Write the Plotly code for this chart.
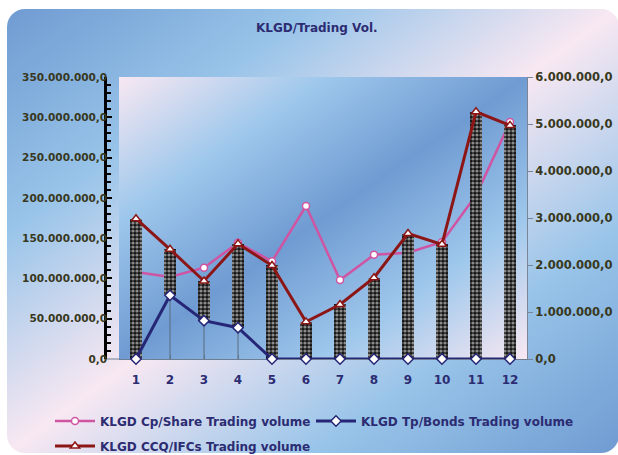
import base64
import plotly.graph_objects as go

# ---------------- data ----------------
months = [1, 2, 3, 4, 5, 6, 7, 8, 9, 10, 11, 12]
month_labels = ["1", "2", "3", "4", "5", "6", "7", "8", "9", "10", "11", "12"]
cp_share = [108.0e6, 101.8e6, 113.3e6, 144.3e6, 121.3e6, 189.9e6,
            98.0e6, 129.4e6, 131.9e6, 145.2e6, 203.2e6, 294.1e6]
tp_bonds = [0.0, 1.355e6, 0.815e6, 0.666e6, 0.0, 0.0,
            0.0, 0.0, 0.0, 0.0, 0.0, 0.0]
ccq_ifcs = [2.985e6, 2.334e6, 1.66e6, 2.45e6, 1.99e6, 0.79e6,
            1.16e6, 1.73e6, 2.67e6, 2.44e6, 5.26e6, 4.97e6]

W, H = 618, 455
PX0, PX1, PY0, PY1 = 119, 527, 77, 359   # plot area in pixels

def px(x):
    return x / W

def py(y):
    return 1 - y / H

FONT = "DejaVu Sans"
NAVY = "#2c2c72"
OLIVE = "#383820"
PINK = "#cf55a3"
BLUE = "#262676"
RED = "#8c1616"

# ---------------- background gradients (SVG) ----------------
svg = f'''<svg xmlns="http://www.w3.org/2000/svg" width="{W}" height="{H}" viewBox="0 0 {W} {H}">
<defs>
<linearGradient id="g1" x1="0" y1="0" x2="1" y2="1">
<stop offset="0" stop-color="#6f9bd2"/>
<stop offset="0.25" stop-color="#98c4e9"/>
<stop offset="0.5" stop-color="#f8e8f2"/>
<stop offset="0.75" stop-color="#98c4e9"/>
<stop offset="1" stop-color="#6f9bd2"/>
</linearGradient>
<linearGradient id="g2" x1="0" y1="0" x2="1" y2="1">
<stop offset="0" stop-color="#f8e8f2"/>
<stop offset="0.25" stop-color="#9fc8ec"/>
<stop offset="0.5" stop-color="#6f9bd2"/>
<stop offset="0.75" stop-color="#9fc8ec"/>
<stop offset="1" stop-color="#f8e8f2"/>
</linearGradient>
</defs>
<rect x="7" y="9" width="612" height="444" rx="18" ry="18" fill="url(#g1)"/>
<rect x="{PX0}" y="{PY0}" width="{PX1-PX0}" height="{PY1-PY0}" fill="url(#g2)"/>
</svg>'''
src = "data:image/svg+xml;base64," + base64.b64encode(svg.encode()).decode()

fig = go.Figure()

# Cp/Share on primary (left) axis - drawn beneath bars
fig.add_trace(go.Scatter(
    x=months, y=cp_share, name="KLGD Cp/Share Trading volume",
    mode="lines+markers", yaxis="y", cliponaxis=False,
    line=dict(color=PINK, width=2.5),
    marker=dict(symbol="circle", size=7, color="white",
                line=dict(color=PINK, width=1.5)),
    legend="legend",
))

# up-down bars between Tp/Bonds and CCQ/IFCs
fig.add_trace(go.Bar(
    x=months, y=[c - t for c, t in zip(ccq_ifcs, tp_bonds)], base=tp_bonds,
    yaxis="y2", width=0.33, showlegend=False, hoverinfo="skip",
    marker=dict(color="#161616", line=dict(width=0),
                pattern=dict(shape=".", fgcolor="white", bgcolor="#161616",
                             size=4, solidity=0.5)),
))

# Tp/Bonds and CCQ/IFCs on top layer (same scale as right axis)
fig.add_trace(go.Scatter(
    x=months, y=tp_bonds, name="KLGD Tp/Bonds Trading volume",
    mode="lines+markers", yaxis="y3", cliponaxis=False,
    line=dict(color=BLUE, width=3),
    marker=dict(symbol="diamond", size=8, color="white",
                line=dict(color=BLUE, width=1.5)),
    error_y=dict(type="data", symmetric=False, array=[0] * len(tp_bonds),
                 arrayminus=tp_bonds, color="#5a6a80", thickness=1, width=0),
    legend="legend2",
))
fig.add_trace(go.Scatter(
    x=months, y=ccq_ifcs, name="KLGD CCQ/IFCs Trading volume",
    mode="lines+markers", yaxis="y3", cliponaxis=False,
    line=dict(color=RED, width=3),
    marker=dict(symbol="triangle-up", size=8, color="white",
                line=dict(color=RED, width=1.5)),
    legend="legend3",
))

ydom = [py(PY1), py(PY0)]
legfont = dict(family=FONT, size=12, color=NAVY, weight="bold")

fig.update_layout(
    width=W, height=H,
    margin=dict(l=0, r=0, t=0, b=0, autoexpand=False),
    paper_bgcolor="white",
    plot_bgcolor="rgba(0,0,0,0)",
    separators=",.",
    showlegend=True,
    bargap=0,
    images=[dict(source=src, xref="paper", yref="paper", x=0, y=1,
                 sizex=1, sizey=1, xanchor="left", yanchor="top",
                 sizing="stretch", layer="below")],
    xaxis=dict(domain=[px(PX0), px(PX1)], range=[0.5, 12.5],
               tickvals=months, ticktext=month_labels,
               showline=True, linecolor="#6d7d92", linewidth=1,
               ticks="inside", ticklen=4, tickcolor="#6d7d92",
               showgrid=False, zeroline=False, layer="below traces",
               tickfont=dict(family=FONT, size=12, color=NAVY, weight="bold"),
               ticklabelstandoff=10, automargin=False, fixedrange=True),
    yaxis=dict(domain=ydom, range=[0, 350e6], anchor="free", position=px(105),
               showline=True, linecolor="black", linewidth=2.5,
               ticks="inside", ticklen=5, tickcolor="black", tickwidth=1.5,
               dtick=50e6, tickformat=",.1f",
               minor=dict(dtick=10e6, ticks="inside", ticklen=4,
                          tickcolor="black", tickwidth=1.5, showgrid=False),
               showgrid=False, zeroline=False,
               tickfont=dict(family=FONT, size=10.5, color=OLIVE, weight="bold"),
               ticklabelstandoff=-5,
               automargin=False, fixedrange=True),
    yaxis2=dict(domain=ydom, range=[0, 6e6], overlaying="y", side="right",
                anchor="x", showline=True, linecolor="#7a8698", linewidth=1,
                ticks="outside", ticklen=5, tickcolor="#7a8698",
                dtick=1e6, tickformat=",.1f", showgrid=False, zeroline=False,
                tickfont=dict(family=FONT, size=11.5, color=OLIVE, weight="bold"),
                automargin=False, fixedrange=True),
    yaxis3=dict(domain=ydom, range=[0, 6e6], overlaying="y", side="right",
                anchor="x", visible=False, fixedrange=True),
    legend=dict(orientation="h", x=px(50), y=py(421), xanchor="left",
                yanchor="middle", bgcolor="rgba(0,0,0,0)", font=legfont,
                itemwidth=40),
    legend2=dict(orientation="h", x=px(311), y=py(421), xanchor="left",
                 yanchor="middle", bgcolor="rgba(0,0,0,0)", font=legfont,
                 itemwidth=40),
    legend3=dict(orientation="h", x=px(50), y=py(446), xanchor="left",
                 yanchor="middle", bgcolor="rgba(0,0,0,0)", font=legfont,
                 itemwidth=40),
    annotations=[dict(text="KLGD/Trading Vol.", x=px(317), y=py(28),
                      xref="paper", yref="paper", showarrow=False,
                      xanchor="center", yanchor="middle",
                      font=dict(family=FONT, size=12, color=NAVY, weight="bold"))],
    shapes=[dict(type="line", xref="paper", yref="paper",
                 x0=px(105), x1=px(PX0), y0=py(PY1), y1=py(PY1),
                 line=dict(color="#6d7d92", width=1), layer="below")],
)

fig.write_html("out.html",
               config={"displayModeBar": False},
               post_script="document.body.style.margin='0px';"
                           "document.body.style.overflow='hidden';")
